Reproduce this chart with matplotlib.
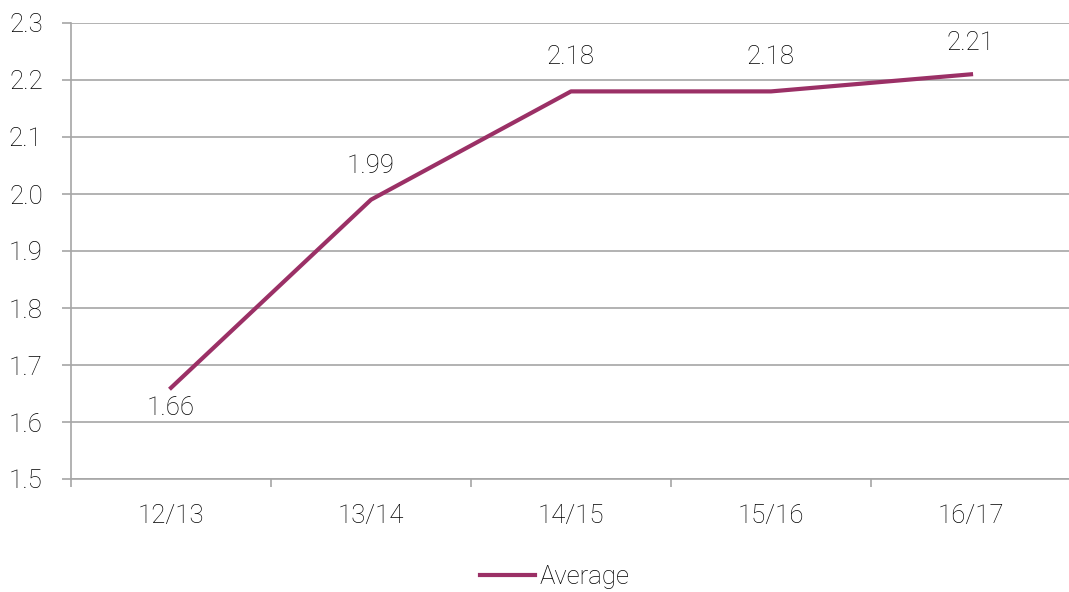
import matplotlib.pyplot as plt

seasons = ["12/13", "13/14", "14/15", "15/16", "16/17"]
average = [1.66, 1.99, 2.18, 2.18, 2.21]
label_below = [True, False, False, False, False]

plt.rcParams['font.family'] = ['Roboto', 'DejaVu Sans']
plt.rcParams['font.weight'] = 'light'

line_color = "#9b3066"
grid_color = "#a6a6a6"
text_color = "#000000"
fsize = 18.5

fig = plt.figure(figsize=(10.69, 5.92), dpi=100)
ax = fig.add_axes([71 / 1069, 1 - 479 / 592, 1000 / 1069, 456 / 592])

x = list(range(len(seasons)))
ax.plot(x, average, color=line_color, linewidth=3, label="Average")

ax.set_xlim(-0.5, len(seasons) - 0.5)
ax.set_ylim(1.5, 2.3)

# data labels: above the point, but kept inside the plot area like Excel does
top_px = ax.transData.transform((0, 2.3))[1]
for xi, v, below in zip(x, average, label_below):
    py = ax.transData.transform((xi, v))[1]
    if below:
        off_px = -20
    else:
        off_px = min(34, top_px - 20 - py)
    ax.annotate(f"{v:.2f}", (xi, v), xytext=(0, off_px * 0.72), textcoords="offset points",
                ha="center", va="center", fontsize=fsize, color=text_color)

ax.set_yticks([1.5 + 0.1 * i for i in range(9)])
ax.set_yticklabels([f"{1.5 + 0.1 * i:.1f}" for i in range(9)])
ax.set_xticks(x)
ax.set_xticklabels(seasons)
ax.set_xticks([i - 0.5 for i in range(len(seasons) + 1)], minor=True)

ax.grid(axis="y", color=grid_color, linewidth=1.2)
ax.set_axisbelow(True)
for side in ["top", "right"]:
    ax.spines[side].set_visible(False)
for side in ["left", "bottom"]:
    ax.spines[side].set_color(grid_color)
    ax.spines[side].set_linewidth(1.2)

ax.tick_params(axis="y", length=6.3, width=1.2, color=grid_color, labelsize=fsize, pad=14,
               labelcolor=text_color)
ax.tick_params(axis="x", which="major", length=0, labelsize=fsize, pad=18, labelcolor=text_color)
ax.tick_params(axis="x", which="minor", length=6, width=1.2, color=grid_color)

fig.legend(loc="center", bbox_to_anchor=(555 / 1069, 1 - 577 / 592), frameon=False,
           fontsize=fsize, handlelength=2.14, handletextpad=0.2, labelcolor=text_color)

fig.savefig("out.png", dpi=100)
